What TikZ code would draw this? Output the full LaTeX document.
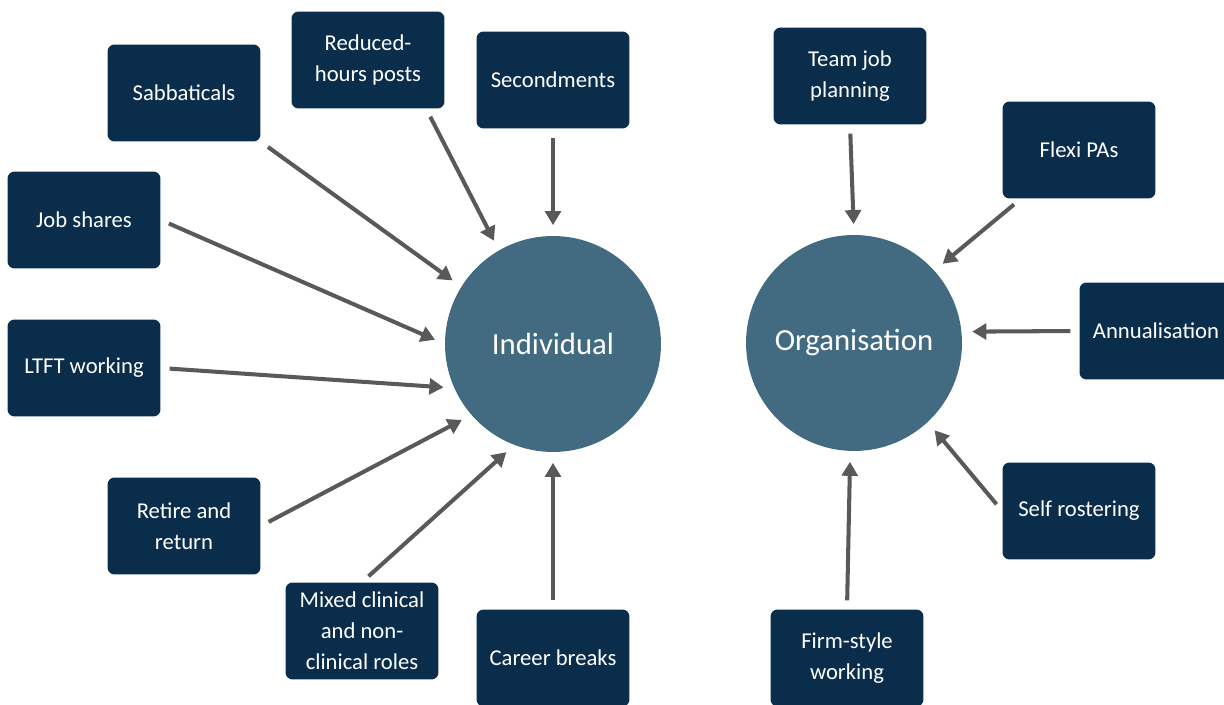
\documentclass[tikz,border=0pt]{standalone}
\usepackage{fontspec}
\setmainfont{Carlito}
\usetikzlibrary{arrows.meta}
\definecolor{boxnavy}{HTML}{0B2D4C}
\definecolor{hubblue}{HTML}{426B82}
\definecolor{feedgray}{HTML}{595959}

\begin{document}
\begin{tikzpicture}[x=0.02cm, y=-0.02cm,
    optbox/.style={fill=boxnavy, rounded corners=4pt, minimum width=3.06cm, minimum height=1.94cm,
        text=white, align=center, inner sep=2pt, font=\fontsize{12.9}{17.6}\selectfont},
    hub/.style={circle, fill=hubblue, minimum size=4.32cm, text=white, font=\fontsize{17.5}{21}\selectfont},
    feed/.style={-{Triangle[length=8pt, width=9pt]}, line width=2.3pt, draw=feedgray,
        shorten <=5pt, shorten >=6pt}]
    \useasboundingbox (0,0) rectangle (1224,705);

    % Centres
    \node[hub] (indiv) at (553,344) {Individual};
    \node[hub] (org) at (854,343) {Organisation};

    % Individual options
    \node[optbox] (sabb) at (184,93) {Sabbaticals};
    \node[optbox] (reduced) at (368,60) {Reduced-\\hours posts};
    \node[optbox] (second) at (553,80) {Secondments};
    \node[optbox] (jobshare) at (84,220) {Job shares};
    \node[optbox] (ltft) at (84,368) {LTFT working};
    \node[optbox] (retire) at (184,526) {Retire and\\return};
    \node[optbox] (mixed) at (362,631) {Mixed clinical\\and non-\\clinical roles};
    \node[optbox] (career) at (553,658) {Career breaks};

    % Organisation options
    \node[optbox] (teamjob) at (850,76) {Team job\\planning};
    \node[optbox] (flexi) at (1079,150) {Flexi PAs};
    \node[optbox] (annual) at (1156,331) {Annualisation};
    \node[optbox] (selfrost) at (1079,511) {Self rostering};
    \node[optbox] (firm) at (847,658) {Firm-style\\working};

    % Arrows into Individual
    \draw[feed] (sabb.south east) -- (indiv.148);
    \draw[feed] (reduced.-40) -- (indiv.120);
    \draw[feed] (second.south) -- (indiv.north);
    \draw[feed] (jobshare.east) -- (indiv.180);
    \draw[feed] (ltft.east) -- (indiv.204);
    \draw[feed] (retire.east) -- (indiv.221);
    \draw[feed] (mixed.north) -- (indiv.249);
    \draw[feed] (career.north) -- (indiv.south);

    % Arrows into Organisation
    \draw[feed] (teamjob.south) -- (org.north);
    \draw[feed] (flexi.220) -- (org.42);
    \draw[feed] (annual.west) -- (org.6);
    \draw[feed] (selfrost.west) -- (org.-47);
    \draw[feed] (firm.north) -- (org.268);
\end{tikzpicture}
\end{document}
